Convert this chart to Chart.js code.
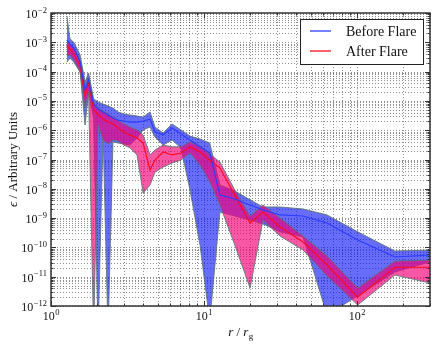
<!DOCTYPE html>
<html>
<head>
<meta charset="utf-8">
<script src="https://cdn.jsdelivr.net/npm/chart.js@4"></script>
<style>
  html, body { margin: 0; padding: 0; background: #fff; }
  canvas { display: block; }
</style>
</head>
<body>
<canvas id="chart" width="436" height="347"></canvas>
<script>
// radius bins, r / r_g
const radius = [1.27, 1.33, 1.41, 1.55, 1.67, 1.76, 1.90, 2.03, 2.19, 2.36, 2.54, 2.74, 3.00, 3.28, 3.65, 4.00,
  4.44, 4.78, 5.40, 6.18, 7.07, 8.10, 9.42, 10.9, 12.7, 15.9, 20.0, 24.3, 31.4, 44.4, 63.7, 101, 177, 300];

// Before flare: centre, lower and upper envelope
const beforeMid = [1.2e-3, 8.7e-4, 6.4e-4, 2.1e-4, 2.4e-5, 5.2e-5, 7.8e-6, 5.3e-6, 4.2e-6, 3.3e-6, 2.6e-6, 2.2e-6,
  2.06e-6, 1.9e-6, 1.9e-6, 2.06e-6, 2.4e-6, 8.7e-7, 6.9e-7, 1.19e-6, 7.4e-7, 4.6e-7, 2.7e-7, 1.67e-7, 6.1e-9,
  4.5e-9, 2.8e-9, 1.9e-9, 1.28e-9, 1.18e-9, 6.8e-10, 1.8e-10, 4.7e-11, 5.5e-11];
const beforeLo = [2.1e-4, 2.9e-4, 2.1e-4, 9.7e-5, 1.5e-6, 2.0e-5, 2.6e-6, 1e-13, 8.0e-7, 1e-13, 4.0e-7, 3.66e-7,
  3.4e-7, 3.1e-7, 5.4e-7, 1.02e-6, 1.29e-6, 5.9e-7, 3.1e-7, 4.6e-7, 2.5e-7, 9.1e-9, 1.2e-10, 3e-13, 1.6e-9,
  1.18e-9, 8.6e-10, 6.3e-10, 3.4e-10, 2.26e-10, 5e-13, 2.2e-12, 1.45e-11, 3.2e-11];
const beforeHi = [7.9e-3, 1.3e-3, 1.0e-3, 3.7e-4, 4.4e-5, 9.0e-5, 1.16e-5, 9.2e-6, 7.8e-6, 6.7e-6, 5.7e-6, 4.2e-6,
  3.6e-6, 3.3e-6, 3.05e-6, 2.8e-6, 4.2e-6, 1.29e-6, 8.0e-7, 1.63e-6, 1.02e-6, 6.3e-7, 5.0e-7, 3.66e-7, 1.35e-8,
  8.4e-9, 4.2e-9, 2.4e-9, 2.4e-9, 2.05e-9, 1.28e-9, 3.4e-10, 7.5e-11, 8.1e-11];

// After flare
const afterMid = [7.5e-4, 5.9e-4, 4.0e-4, 1.55e-4, 1.5e-5, 4.1e-5, 5.3e-6, 3.3e-6, 2.4e-6, 1.9e-6, 1.63e-6, 1.19e-6,
  8.7e-7, 6.9e-7, 5.4e-7, 3.66e-7, 4.4e-8, 9.6e-8, 1.8e-7, 1.43e-7, 1.67e-7, 2.7e-7, 1.8e-7, 9.6e-8, 5.1e-8,
  6.1e-9, 6.8e-10, 1.6e-9, 5.0e-10, 1.53e-10, 2.5e-11, 2.0e-12, 2.1e-11, 2.1e-11];
const afterLo = [3.4e-4, 3.7e-4, 2.5e-4, 9.7e-5, 5.7e-6, 2.0e-5, 1e-13, 1.5e-6, 4.6e-7, 3.4e-7, 4.6e-7, 4.3e-7,
  3.1e-7, 2.5e-7, 1.43e-7, 7.2e-9, 1.35e-8, 3.7e-8, 5.5e-8, 7.6e-8, 9.6e-8, 1.67e-7, 6.5e-8, 1.7e-8, 2.8e-9,
  1.2e-10, 4.1e-12, 8.6e-10, 2.45e-10, 8.1e-11, 1.06e-11, 1.08e-12, 1.14e-11, 6.1e-12];
const afterHi = [1.1e-3, 8.7e-4, 6.4e-4, 2.5e-4, 2.8e-5, 6.5e-5, 9.2e-6, 5.7e-6, 4.5e-6, 3.6e-6, 2.8e-6, 2.2e-6,
  1.63e-6, 1.29e-6, 1.02e-6, 6.9e-7, 1.43e-7, 2.1e-7, 3.1e-7, 2.7e-7, 2.7e-7, 4.0e-7, 2.7e-7, 1.54e-7, 8.2e-8,
  9.1e-9, 1.18e-9, 2.8e-9, 1.0e-9, 2.45e-10, 5.1e-11, 4.1e-12, 3.4e-11, 3.7e-11];

const seriesNames = ['Before Flare', 'After Flare'];
const xDecades = [0, 1, 2];
const yDecades = [-12, -11, -10, -9, -8, -7, -6, -5, -4, -3, -2];

const BLUE = 'rgb(45,60,255)';
const RED = 'rgb(255,10,30)';
const EDGE = 'rgba(90,115,115,0.85)';
const SERIF = '"Liberation Serif", "Times New Roman", serif';

const pts = arr => arr.map((v, i) => ({ x: radius[i], y: v }));

// grid positions: 1..9 x 10^n
function minorSet(decades, lo, hi) {
  const out = [];
  decades.forEach(d => {
    for (let k = 1; k <= 9; k++) {
      const v = k * Math.pow(10, d);
      if (v >= lo * 0.999 && v <= hi * 1.001) out.push({ v, major: k === 1 });
    }
  });
  return out;
}

function drawPow(ctx, exp, x, y, align) {
  const sup = String(exp).replace('-', '\u2212');
  ctx.font = '12px ' + SERIF;
  const wb = ctx.measureText('10').width;
  ctx.font = '8.5px ' + SERIF;
  const ws = ctx.measureText(sup).width;
  const total = wb + ws + 0.5;
  let left = align === 'right' ? x - total : x - total / 2;
  ctx.textAlign = 'left';
  ctx.textBaseline = 'alphabetic';
  ctx.font = '12px ' + SERIF;
  ctx.fillText('10', left, y);
  ctx.font = '8.5px ' + SERIF;
  ctx.fillText(sup, left + wb + 0.5, y - 5.5);
}

const axesPlugin = {
  id: 'axesPlugin',
  beforeDatasetsDraw(chart) {
    const { ctx, chartArea: a, scales: { x, y } } = chart;
    ctx.save();
    ctx.strokeStyle = 'rgba(50,50,50,0.55)';
    ctx.lineWidth = 1;
    ctx.setLineDash([1, 2]);
    minorSet([0, 1, 2], 1, 300).forEach(t => {
      const px = Math.round(x.getPixelForValue(t.v)) + 0.5;
      ctx.beginPath(); ctx.moveTo(px, a.top); ctx.lineTo(px, a.bottom); ctx.stroke();
    });
    minorSet(yDecades, 1e-12, 1e-2).forEach(t => {
      const py = Math.round(y.getPixelForValue(t.v)) + 0.5;
      ctx.beginPath(); ctx.moveTo(a.left, py); ctx.lineTo(a.right, py); ctx.stroke();
    });
    ctx.restore();
  },
  afterDraw(chart) {
    const { ctx, chartArea: a, scales: { x, y } } = chart;
    ctx.save();
    // inward ticks on all four sides
    ctx.strokeStyle = '#333';
    ctx.lineWidth = 1;
    minorSet([0, 1, 2], 1, 300).forEach(t => {
      const px = Math.round(x.getPixelForValue(t.v)) + 0.5;
      const len = t.major ? 5 : 2.5;
      ctx.beginPath();
      ctx.moveTo(px, a.bottom); ctx.lineTo(px, a.bottom - len);
      ctx.moveTo(px, a.top); ctx.lineTo(px, a.top + len);
      ctx.stroke();
    });
    minorSet(yDecades, 1e-12, 1e-2).forEach(t => {
      const py = Math.round(y.getPixelForValue(t.v)) + 0.5;
      const len = t.major ? 5 : 2.5;
      ctx.beginPath();
      ctx.moveTo(a.left, py); ctx.lineTo(a.left + len, py);
      ctx.moveTo(a.right, py); ctx.lineTo(a.right - len, py);
      ctx.stroke();
    });
    ctx.lineWidth = 1.5;
    ctx.strokeRect(a.left, a.top, a.right - a.left, a.bottom - a.top);

    // tick labels
    ctx.fillStyle = '#111';
    yDecades.forEach(e => drawPow(ctx, e, a.left - 4, y.getPixelForValue(Math.pow(10, e)) + 5, 'right'));
    xDecades.forEach(e => drawPow(ctx, e, x.getPixelForValue(Math.pow(10, e)), a.bottom + 14, 'center'));

    // axis titles
    ctx.save();
    ctx.translate(14, (a.top + a.bottom) / 2);
    ctx.rotate(-Math.PI / 2);
    ctx.textBaseline = 'middle';
    ctx.font = 'italic 13px ' + SERIF;
    const eps = '\u03f5';
    const rest = ' / Arbitrary Units';
    const we = ctx.measureText(eps).width;
    ctx.font = '13px ' + SERIF;
    const wr = ctx.measureText(rest).width;
    let sx = -(we + wr) / 2;
    ctx.textAlign = 'left';
    ctx.font = 'italic 13px ' + SERIF;
    ctx.fillText(eps, sx, 0);
    ctx.font = '13px ' + SERIF;
    ctx.fillText(rest, sx + we, 0);
    ctx.restore();

    const cx = (a.left + a.right) / 2;
    ctx.textAlign = 'left';
    ctx.textBaseline = 'alphabetic';
    ctx.font = 'italic 13px ' + SERIF;
    const wR = ctx.measureText('r').width;
    ctx.font = '13px ' + SERIF;
    const wS = ctx.measureText(' / ').width;
    ctx.font = '9px ' + SERIF;
    const wG = ctx.measureText('g').width;
    let lx = cx - (2 * wR + wS + wG) / 2;
    const by = 336;
    ctx.font = 'italic 13px ' + SERIF; ctx.fillText('r', lx, by); lx += wR;
    ctx.font = '13px ' + SERIF; ctx.fillText(' / ', lx, by); lx += wS;
    ctx.font = 'italic 13px ' + SERIF; ctx.fillText('r', lx, by); lx += wR;
    ctx.font = '9px ' + SERIF; ctx.fillText('g', lx + 0.5, by + 3);

    // legend box
    const lg = { left: 300, top: 19, right: 423, bottom: 64 };
    ctx.fillStyle = '#fff';
    ctx.fillRect(lg.left, lg.top, lg.right - lg.left, lg.bottom - lg.top);
    ctx.strokeStyle = '#222';
    ctx.lineWidth = 1;
    ctx.strokeRect(lg.left + 0.5, lg.top + 0.5, lg.right - lg.left, lg.bottom - lg.top);
    [BLUE, RED].forEach((c, i) => {
      const ly = 31 + i * 20;
      ctx.strokeStyle = c;
      ctx.lineWidth = 1.3;
      ctx.beginPath(); ctx.moveTo(310, ly); ctx.lineTo(331, ly); ctx.stroke();
      ctx.fillStyle = '#111';
      ctx.font = '14px ' + SERIF;
      ctx.textBaseline = 'alphabetic';
      ctx.fillText(seriesNames[i], 346, ly + 5);
    });
    ctx.restore();
  }
};

const datasets = [
  { label: seriesNames[0], data: pts(beforeMid), borderColor: BLUE, borderWidth: 1.2, fill: false },
  { label: seriesNames[1], data: pts(afterMid), borderColor: RED, borderWidth: 1.2, fill: false },
  { label: 'after lo', data: pts(afterLo), borderColor: EDGE, borderWidth: 1, fill: false },
  { label: 'after hi', data: pts(afterHi), borderColor: EDGE, borderWidth: 1, fill: '-1',
    backgroundColor: 'rgba(245,0,120,0.66)' },
  { label: 'before lo', data: pts(beforeLo), borderColor: EDGE, borderWidth: 1, fill: false },
  { label: 'before hi', data: pts(beforeHi), borderColor: EDGE, borderWidth: 1, fill: '-1',
    backgroundColor: 'rgba(10,20,245,0.62)' }
];

new Chart(document.getElementById('chart'), {
  type: 'line',
  data: { datasets },
  options: {
    responsive: false,
    animation: false,
    devicePixelRatio: 1,
    layout: { padding: { left: 51, right: 6, top: 13, bottom: 41 } },
    elements: { point: { radius: 0, hoverRadius: 0 }, line: { tension: 0 } },
    plugins: { legend: { display: false }, tooltip: { enabled: false } },
    scales: {
      x: { type: 'logarithmic', min: 1, max: 300, display: false },
      y: { type: 'logarithmic', min: 1e-12, max: 1e-2, display: false }
    }
  },
  plugins: [axesPlugin]
});
</script>
</body>
</html>
